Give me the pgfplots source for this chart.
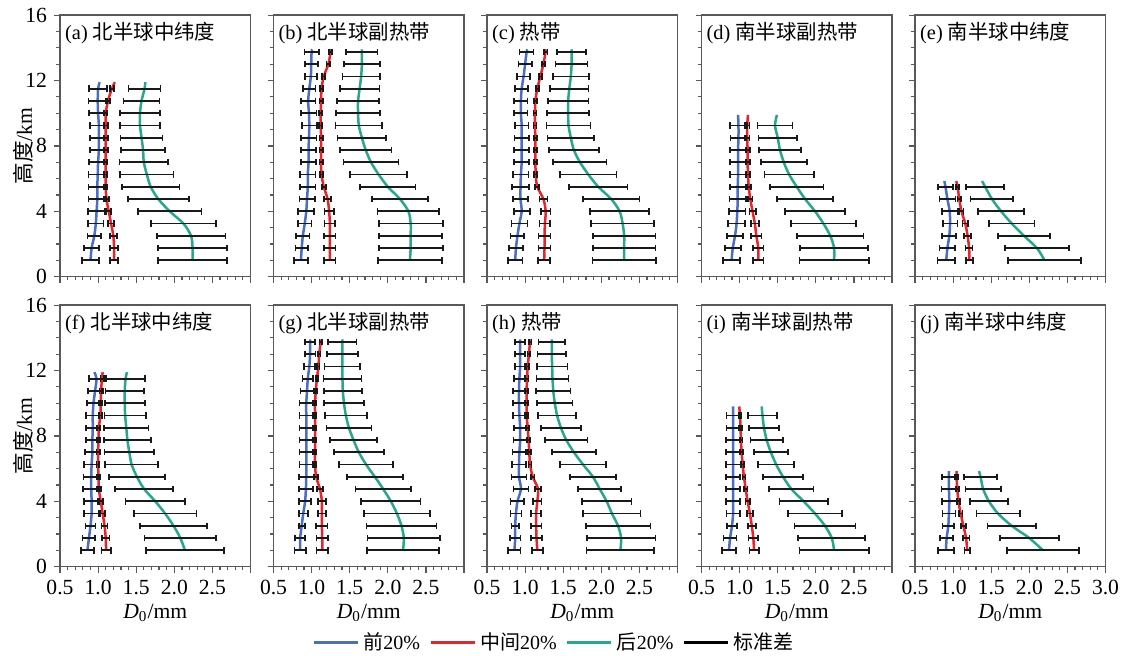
\documentclass[border=0pt]{standalone}
\usepackage{fontspec}
\setmainfont{Liberation Serif}
\newfontfamily\cjk{Noto Sans CJK SC}
\usepackage{pgfplots}
\usepackage{pgfplotstable}
\pgfplotsset{compat=1.18}

\definecolor{cb}{RGB}{72,110,200}
\definecolor{cr}{RGB}{235,35,40}
\definecolor{cg}{RGB}{35,170,140}

% columns: h = height (km); b,r,g = D0 of first/middle/last 20%; bs,rs,gs = std
\pgfplotstableread{
h b bs r rs g gs
1 0.90 0.11 1.21 0.055 2.24 0.455
1.75 0.915 0.10 1.21 0.055 2.24 0.455
2.5 0.95 0.09 1.20 0.045 2.22 0.45
3.25 0.97 0.10 1.17 0.04 2.12 0.43
4 0.98 0.11 1.14 0.03 1.94 0.415
4.75 0.99 0.115 1.11 0.03 1.79 0.40
5.5 0.99 0.116 1.10 0.025 1.69 0.38
6.25 0.995 0.12 1.10 0.025 1.64 0.35
7 1.0 0.12 1.10 0.025 1.60 0.32
7.75 1.01 0.12 1.10 0.025 1.59 0.29
8.5 1.01 0.12 1.10 0.025 1.57 0.275
9.25 1.01 0.12 1.10 0.025 1.55 0.265
10 1.0 0.115 1.10 0.025 1.55 0.26
10.75 0.995 0.12 1.13 0.025 1.57 0.235
11.5 1.0 0.12 1.18 0.025 1.61 0.21
11.9 1.02 0 1.22 0 1.62 0
}\tA
\pgfplotstableread{
h b bs r rs g gs
1 0.86 0.094 1.24 0.074 2.29 0.42
1.75 0.87 0.08 1.24 0.074 2.30 0.42
2.5 0.885 0.087 1.24 0.074 2.30 0.415
3.25 0.91 0.09 1.24 0.07 2.30 0.42
4 0.93 0.105 1.23 0.06 2.27 0.405
4.75 0.94 0.10 1.21 0.044 2.16 0.37
5.5 0.95 0.10 1.16 0.026 2.0 0.365
6.25 0.95 0.10 1.13 0.02 1.88 0.375
7 0.96 0.10 1.125 0.02 1.78 0.36
7.75 0.96 0.10 1.125 0.02 1.71 0.34
8.5 0.965 0.10 1.125 0.02 1.66 0.32
9.25 0.97 0.10 1.12 0.02 1.62 0.305
10 0.965 0.10 1.12 0.02 1.61 0.29
10.75 0.955 0.095 1.125 0.02 1.61 0.275
11.5 0.97 0.08 1.13 0.02 1.63 0.26
12.25 0.99 0.08 1.16 0.02 1.65 0.245
13 0.995 0.085 1.22 0.025 1.66 0.235
13.75 1.0 0.095 1.25 0.018 1.66 0.205
13.9 1.01 0 1.26 0 1.66 0
}\tB
\pgfplotstableread{
h b bs r rs g gs
1 0.87 0.097 1.25 0.08 2.30 0.417
1.75 0.88 0.09 1.255 0.08 2.30 0.413
2.5 0.90 0.09 1.255 0.08 2.30 0.41
3.25 0.925 0.105 1.26 0.07 2.28 0.415
4 0.955 0.105 1.27 0.065 2.24 0.39
4.75 0.94 0.10 1.24 0.052 2.13 0.37
5.5 0.94 0.11 1.16 0.026 1.96 0.385
6.25 0.945 0.1 1.14 0.02 1.83 0.37
7 0.955 0.1 1.135 0.02 1.72 0.35
7.75 0.955 0.1 1.135 0.02 1.64 0.33
8.5 0.955 0.095 1.135 0.02 1.60 0.305
9.25 0.955 0.09 1.13 0.02 1.57 0.29
10 0.945 0.087 1.13 0.02 1.565 0.275
10.75 0.945 0.087 1.135 0.02 1.565 0.265
11.5 0.955 0.087 1.16 0.02 1.58 0.25
12.25 0.98 0.087 1.2 0.02 1.6 0.235
13 1.0 0.087 1.24 0.022 1.61 0.21
13.75 1.02 0.092 1.27 0.022 1.61 0.19
13.9 1.03 0 1.28 0 1.61 0
}\tC
\pgfplotstableread{
h b bs r rs g gs
1 0.895 0.114 1.245 0.07 2.24 0.456
1.75 0.91 0.105 1.245 0.07 2.24 0.443
2.5 0.94 0.105 1.22 0.066 2.19 0.434
3.25 0.96 0.11 1.2 0.053 2.1 0.423
4 0.97 0.108 1.17 0.042 1.99 0.39
4.75 0.975 0.107 1.14 0.03 1.86 0.37
5.5 0.975 0.103 1.12 0.025 1.75 0.35
6.25 0.98 0.103 1.11 0.028 1.65 0.325
7 0.98 0.105 1.105 0.028 1.58 0.30
7.75 0.98 0.11 1.105 0.028 1.53 0.275
8.5 0.985 0.105 1.1 0.028 1.5 0.252
9.25 0.985 0.11 1.1 0.028 1.465 0.23
9.9 0.98 0 1.11 0 1.49 0
}\tD
\pgfplotstableread{
h b bs r rs g gs
1 0.91 0.114 1.215 0.046 2.2 0.48
1.75 0.925 0.103 1.21 0.046 2.1 0.42
2.5 0.95 0.092 1.19 0.044 1.93 0.34
3.25 0.96 0.096 1.16 0.037 1.77 0.30
4 0.955 0.105 1.11 0.026 1.63 0.30
4.75 0.925 0.105 1.08 0.022 1.51 0.28
5.5 0.90 0.10 1.06 0.02 1.42 0.25
5.85 0.885 0 1.04 0 1.38 0
}\tE
\pgfplotstableread{
h b bs r rs g gs
1 0.86 0.088 1.105 0.06 2.14 0.51
1.75 0.88 0.083 1.10 0.05 2.08 0.47
2.5 0.90 0.066 1.085 0.04 1.99 0.443
3.25 0.915 0.096 1.06 0.03 1.88 0.41
4 0.915 0.1 1.035 0.033 1.75 0.39
4.75 0.91 0.105 1.01 0.025 1.605 0.38
5.5 0.91 0.1 1.005 0.02 1.51 0.366
6.25 0.915 0.096 1.0 0.02 1.44 0.35
7 0.925 0.096 1.0 0.02 1.41 0.327
7.75 0.925 0.088 1.005 0.02 1.385 0.307
8.5 0.93 0.088 1.01 0.02 1.37 0.29
9.25 0.93 0.085 1.03 0.02 1.355 0.27
10 0.94 0.09 1.035 0.02 1.35 0.263
10.75 0.96 0.088 1.04 0.02 1.35 0.254
11.5 0.98 0.098 1.05 0.02 1.36 0.254
11.9 0.95 0 1.06 0 1.38 0
}\tF
\pgfplotstableread{
h b bs r rs g gs
1 0.85 0.074 1.14 0.077 2.2 0.476
1.75 0.85 0.066 1.14 0.077 2.21 0.476
2.5 0.87 0.04 1.135 0.075 2.18 0.46
3.25 0.89 0.06 1.135 0.055 2.12 0.43
4 0.915 0.08 1.135 0.055 2.04 0.39
4.75 0.925 0.09 1.11 0.04 1.94 0.363
5.5 0.93 0.094 1.06 0.025 1.83 0.365
6.25 0.93 0.088 1.045 0.015 1.715 0.354
7 0.93 0.088 1.045 0.015 1.62 0.33
7.75 0.93 0.088 1.045 0.015 1.55 0.31
8.5 0.93 0.088 1.045 0.015 1.49 0.295
9.25 0.93 0.088 1.045 0.015 1.45 0.275
10 0.93 0.088 1.045 0.015 1.425 0.26
10.75 0.94 0.085 1.055 0.015 1.41 0.25
11.5 0.95 0.068 1.07 0.015 1.405 0.25
12.25 0.97 0.07 1.09 0.015 1.405 0.234
13 0.98 0.07 1.10 0.015 1.405 0.2
13.75 0.98 0.066 1.12 0.015 1.405 0.186
13.9 0.98 0 1.12 0 1.40 0
}\tG
\pgfplotstableread{
h b bs r rs g gs
1 0.86 0.08 1.16 0.072 2.25 0.446
1.75 0.87 0.07 1.15 0.076 2.26 0.452
2.5 0.87 0.05 1.145 0.07 2.22 0.424
3.25 0.88 0.072 1.145 0.065 2.14 0.376
4 0.90 0.09 1.16 0.054 2.07 0.326
4.75 0.945 0.098 1.17 0.043 1.98 0.283
5.5 0.92 0.098 1.10 0.024 1.89 0.30
6.25 0.92 0.095 1.065 0.02 1.76 0.30
7 0.925 0.09 1.055 0.02 1.64 0.287
7.75 0.935 0.088 1.045 0.02 1.54 0.278
8.5 0.935 0.085 1.035 0.02 1.47 0.263
9.25 0.925 0.085 1.02 0.018 1.42 0.25
10 0.92 0.083 1.02 0.018 1.39 0.233
10.75 0.92 0.08 1.02 0.018 1.37 0.224
11.5 0.925 0.072 1.025 0.018 1.36 0.21
12.25 0.935 0.065 1.035 0.018 1.355 0.2
13 0.935 0.065 1.05 0.018 1.35 0.187
13.75 0.935 0.065 1.065 0.018 1.35 0.176
13.9 0.935 0 1.075 0 1.35 0
}\tH
\pgfplotstableread{
h b bs r rs g gs
1 0.86 0.092 1.19 0.06 2.24 0.454
1.75 0.875 0.085 1.18 0.063 2.21 0.44
2.5 0.90 0.066 1.16 0.053 2.12 0.40
3.25 0.915 0.088 1.135 0.037 1.99 0.355
4 0.915 0.094 1.105 0.028 1.84 0.316
4.75 0.915 0.094 1.08 0.025 1.68 0.29
5.5 0.915 0.094 1.057 0.02 1.57 0.26
6.25 0.915 0.098 1.04 0.02 1.48 0.235
7 0.915 0.096 1.027 0.02 1.41 0.224
7.75 0.915 0.092 1.017 0.02 1.355 0.213
8.5 0.915 0.088 1.013 0.02 1.32 0.197
9.25 0.915 0.086 1.005 0.02 1.30 0.19
9.8 0.915 0 0.995 0 1.29 0
}\tI
\pgfplotstableread{
h b bs r rs g gs
1 0.906 0.107 1.185 0.037 2.18 0.476
1.75 0.915 0.087 1.17 0.044 2.0 0.386
2.5 0.937 0.076 1.135 0.033 1.77 0.32
3.25 0.945 0.085 1.1 0.025 1.59 0.284
4 0.95 0.096 1.07 0.02 1.47 0.25
4.75 0.945 0.096 1.055 0.02 1.395 0.234
5.5 0.945 0.094 1.045 0.02 1.36 0.214
5.85 0.945 0 1.045 0 1.34 0
}\tJ

\pgfplotsset{
  panel/.style={
    width=95.25pt, height=130.8pt, scale only axis,
    anchor=south west,
    xmin=0.5, xmax=3.0, ymin=0, ymax=16,
    xtick={0.5,1.0,1.5,2.0,2.5,3.0}, ytick={0,4,8,12,16},
    minor x tick num=4, minor y tick num=3,
    tick pos=left, tick align=outside,
    major tick length=3pt, minor tick length=1.8pt,
    axis line style={draw=black!65, line width=0.7pt},
    every tick/.append style={black!65, line width=0.6pt},
    xticklabels={}, yticklabels={},
    tick label style={font=\fontsize{10.8}{12}\selectfont},
    label style={font=\fontsize{10.8}{12}\selectfont},
    xlabel style={yshift=2pt},
    ylabel style={yshift=-11pt},
  },
  lin/.style={forget plot, line width=1.25pt, smooth, mark=none},
  errb/.style={forget plot, draw=none, mark=none,
    /pgfplots/error bars/x dir=both,
    /pgfplots/error bars/x explicit,
    /pgfplots/error bars/error bar style={draw=black!90, line width=0.9pt, solid},
    /pgfplots/error bars/error mark options={draw=black!90, rotate=90, mark size=1.6pt, line width=0.85pt}},
}
\newcommand{\ttl}[1]{\node[anchor=west, inner sep=0pt, font=\fontsize{10.2}{12}\selectfont] at (rel axis cs:0.025,0.932) {#1};}
\newcommand{\panel}[2]{%
  \addplot[lin, cb] table[x=b,y=h]{#1};
  \addplot[lin, cr] table[x=r,y=h]{#1};
  \addplot[lin, cg] table[x=g,y=h]{#1};
  \addplot[errb, restrict y to domain=0:#2] table[x=b,y=h,x error=bs]{#1};
  \addplot[errb, restrict y to domain=0:#2] table[x=r,y=h,x error=rs]{#1};
  \addplot[errb, restrict y to domain=0:#2] table[x=g,y=h,x error=gs]{#1};
}

\begin{document}
\begin{tikzpicture}
\path[use as bounding box] (0,0) rectangle (561.5pt,327.5pt);

% row 1
\begin{axis}[panel, at={(30pt,189.15pt)}, yticklabels={0,4,8,12,16}, ylabel={{\cjk 高度}/km}]
\panel{\tA}{11.6}
\ttl{(a) {\cjk 北半球中纬度}}
\end{axis}
\begin{axis}[panel, at={(136.75pt,189.15pt)}]
\panel{\tB}{13.8}
\ttl{(b) {\cjk 北半球副热带}}
\end{axis}
\begin{axis}[panel, at={(243.5pt,189.15pt)}]
\panel{\tC}{13.8}
\ttl{(c) {\cjk 热带}}
\end{axis}
\begin{axis}[panel, at={(350.75pt,189.15pt)}]
\panel{\tD}{9.3}
\ttl{(d) {\cjk 南半球副热带}}
\end{axis}
\begin{axis}[panel, at={(457.5pt,189.15pt)}]
\panel{\tE}{5.6}
\ttl{(e) {\cjk 南半球中纬度}}
\end{axis}

% row 2
\begin{axis}[panel, at={(30pt,44.15pt)}, yticklabels={0,4,8,12,16}, ylabel={{\cjk 高度}/km},
  xticklabels={0.5,1.0,1.5,2.0,2.5,{}}, xlabel={\textit{D}\textsubscript{0}/mm}]
\panel{\tF}{11.6}
\ttl{(f) {\cjk 北半球中纬度}}
\end{axis}
\begin{axis}[panel, at={(136.75pt,44.15pt)},
  xticklabels={0.5,1.0,1.5,2.0,2.5,{}}, xlabel={\textit{D}\textsubscript{0}/mm}]
\panel{\tG}{13.8}
\ttl{(g) {\cjk 北半球副热带}}
\end{axis}
\begin{axis}[panel, at={(243.5pt,44.15pt)},
  xticklabels={0.5,1.0,1.5,2.0,2.5,{}}, xlabel={\textit{D}\textsubscript{0}/mm}]
\panel{\tH}{13.8}
\ttl{(h) {\cjk 热带}}
\end{axis}
\begin{axis}[panel, at={(350.75pt,44.15pt)},
  xticklabels={0.5,1.0,1.5,2.0,2.5,{}}, xlabel={\textit{D}\textsubscript{0}/mm}]
\panel{\tI}{9.3}
\ttl{(i) {\cjk 南半球副热带}}
\end{axis}
\begin{axis}[panel, at={(457.5pt,44.15pt)},
  xticklabels={0.5,1.0,1.5,2.0,2.5,3.0}, xlabel={\textit{D}\textsubscript{0}/mm},
  legend columns=4,
  legend style={at={(-1.89,-0.29)}, anchor=center, draw=none, fill=none,
    font=\fontsize{10}{12}\selectfont, inner sep=0pt,
    /tikz/every even column/.append style={column sep=2.5pt}},
  legend image code/.code={\draw[#1, line width=1.6pt] (0pt,0pt) -- (22pt,0pt);}]
\panel{\tJ}{5.6}
\ttl{(j) {\cjk 南半球中纬度}}
\addlegendimage{cb}\addlegendentry{{\cjk 前}20\%}
\addlegendimage{cr}\addlegendentry{{\cjk 中间}20\%}
\addlegendimage{cg}\addlegendentry{{\cjk 后}20\%}
\addlegendimage{black}\addlegendentry{{\cjk 标准差}}
\end{axis}
\end{tikzpicture}
\end{document}
